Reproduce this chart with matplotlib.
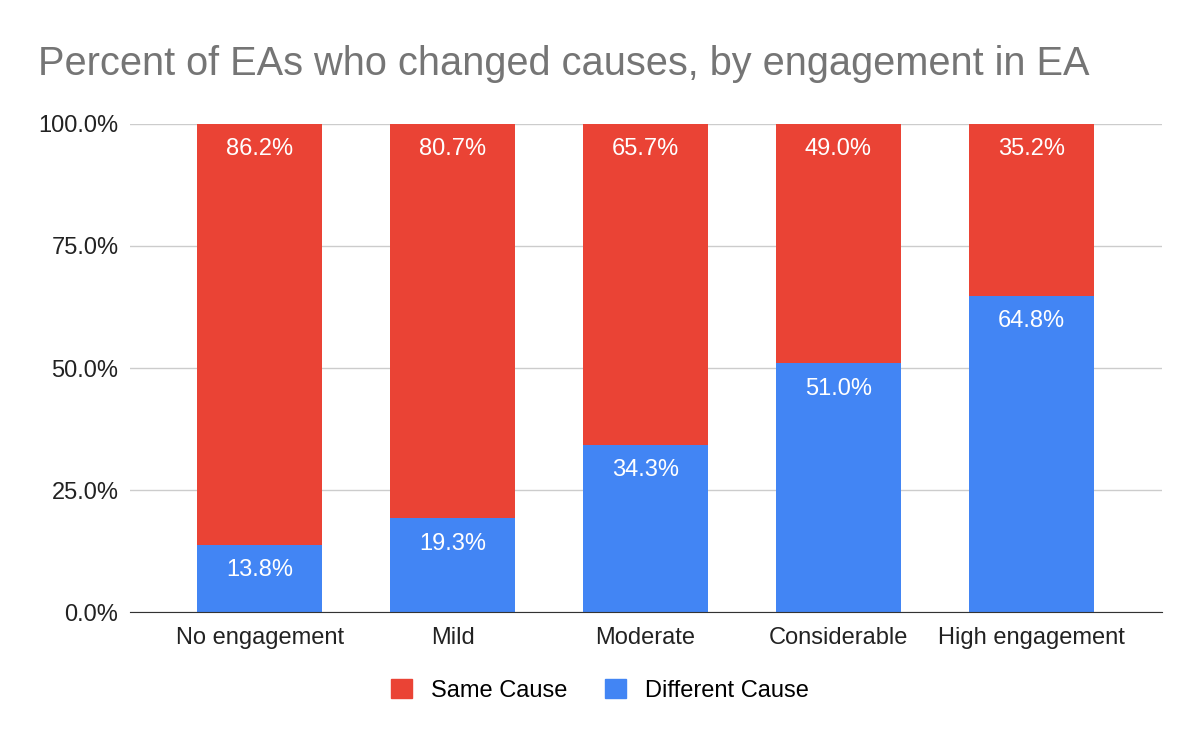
import matplotlib.pyplot as plt
from matplotlib.patches import Patch

plt.rcParams['font.family'] = ['Liberation Sans', 'DejaVu Sans']

categories = ["No engagement", "Mild", "Moderate", "Considerable", "High engagement"]
different_cause = [13.8, 19.3, 34.3, 51.0, 64.8]
same_cause = [86.2, 80.7, 65.7, 49.0, 35.2]

red = "#EA4335"
blue = "#4285F4"

fig = plt.figure(figsize=(12, 7.42), dpi=100)
ax = fig.add_axes([0.108, 0.175, 0.86, 0.658])

x = range(len(categories))
ax.bar(x, different_cause, width=0.65, color=blue, zorder=3)
ax.bar(x, same_cause, width=0.65, bottom=different_cause, color=red, zorder=3)

# labels inside the top of each segment
for i in x:
    ax.annotate(f"{different_cause[i]:.1f}%", (i, different_cause[i]), xytext=(0, -10.5),
                textcoords="offset points", ha="center", va="top", color="white", fontsize=17)
    ax.annotate(f"{same_cause[i]:.1f}%", (i, different_cause[i] + same_cause[i]), xytext=(0, -10.5),
                textcoords="offset points", ha="center", va="top", color="white", fontsize=17)

ax.set_xlim(-0.675, len(categories) - 1 + 0.675)
ax.set_ylim(0, 100)
ax.set_yticks([0, 25, 50, 75, 100])
ax.set_yticklabels(["0.0%", "25.0%", "50.0%", "75.0%", "100.0%"])
ax.set_xticks(list(x))
ax.set_xticklabels(categories)
ax.tick_params(axis="both", length=0, labelsize=17, colors="#222222")
ax.tick_params(axis="x", pad=11)
ax.tick_params(axis="y", pad=8)
ax.grid(axis="y", color="#cccccc", linewidth=1, zorder=0)
for s in ["top", "right", "left"]:
    ax.spines[s].set_visible(False)
ax.spines["bottom"].set_color("#333333")
ax.spines["bottom"].set_zorder(4)

fig.text(0.032, 0.914, "Percent of EAs who changed causes, by engagement in EA",
         fontsize=28.6, color="#757575", va="center", ha="left")

handles = [Patch(color=red, label="Same Cause"), Patch(color=blue, label="Different Cause")]
fig.legend(handles=handles, loc="center", bbox_to_anchor=(0.5, 0.07), ncol=2, frameon=False,
           fontsize=17, handlelength=0.9, handleheight=0.9, handletextpad=0.8, columnspacing=1.6)

plt.savefig("out.png", dpi=100)
